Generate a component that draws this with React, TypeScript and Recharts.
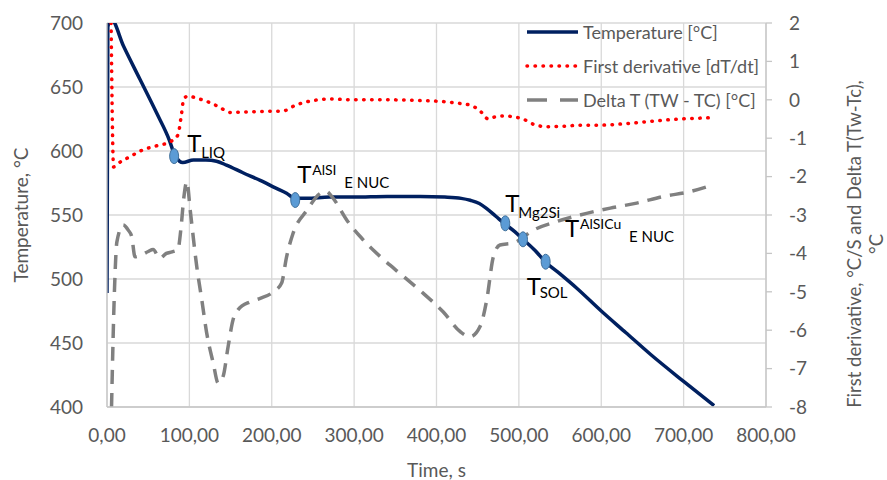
import { ComposedChart, Line, Scatter, XAxis, YAxis, CartesianGrid, Label } from 'recharts'

document.body.style.margin = '0'

// Temperature curve [°C] vs time [s]
const TEMP_TIME = [0, 1, 5, 20, 40, 60, 76, 82, 88, 92, 105, 120, 133, 145, 165, 186, 205, 218, 228, 243, 270, 300, 340, 380, 410, 430, 441, 452, 461, 472, 483, 495, 505, 520, 532, 550, 570, 600, 630, 660, 700, 737]
const TEMP_VALUES = [489, 697, 703, 682, 656, 630, 608, 597, 592, 591, 593, 593, 592, 589, 583, 577, 571, 567, 563, 563, 564, 564, 564.5, 564.5, 564, 563, 561.5, 559, 555, 549, 543, 537, 531, 522, 513.5, 504, 493, 475, 458, 441, 420, 401]

// First derivative [dT/dt]
const DERIV_TIME = [5, 8, 12, 28, 44, 60, 77, 86, 90, 93, 98, 108, 118, 128, 137, 150, 165, 180, 200, 212, 230, 250, 270, 300, 340, 380, 410, 430, 441, 452, 463, 472, 482, 495, 505, 518, 534, 554, 575, 600, 630, 660, 696, 730]
const DERIV_VALUES = [2.0, -1.75, -1.68, -1.48, -1.3, -1.2, -1.09, -0.92, -0.44, 0.0, 0.1, 0.05, -0.02, -0.1, -0.2, -0.33, -0.32, -0.31, -0.3, -0.3, -0.13, -0.02, 0.02, 0.0, 0.0, -0.02, -0.05, -0.1, -0.14, -0.27, -0.5, -0.44, -0.42, -0.45, -0.5, -0.64, -0.7, -0.69, -0.66, -0.66, -0.62, -0.56, -0.5, -0.47]

// Delta T (TW - TC)
const DELTA_TIME = [5.5, 9, 12, 19.6, 26, 30, 34, 42, 50, 56, 64, 72, 79, 86, 90, 93, 97, 101, 109, 115, 121, 129, 135, 141, 147, 153, 159, 174, 186, 202, 212, 218, 226, 243, 258, 266, 273, 291, 309, 332, 360, 384, 408, 429, 441, 453, 461, 469, 477, 493, 518, 546, 574, 611, 643, 675, 708, 735]
const DELTA_VALUES = [-8, -5, -3.7, -3.26, -3.4, -3.56, -4.09, -4.04, -3.95, -3.9, -4.13, -4.0, -3.96, -3.9, -3.3, -2.6, -2.13, -2.87, -4.35, -5.2, -6.07, -6.86, -7.38, -7.2, -6.43, -5.73, -5.47, -5.26, -5.17, -5.0, -4.77, -4.09, -3.47, -2.87, -2.45, -2.38, -2.52, -3.13, -3.6, -4.09, -4.6, -5.04, -5.52, -6.04, -6.17, -5.9, -5.21, -4.09, -3.78, -3.73, -3.39, -3.17, -3.0, -2.82, -2.69, -2.52, -2.39, -2.22]

// characteristic points on the temperature curve
const MARKER_TIME = [81.5, 228.5, 483.5, 505, 532.5]
const MARKER_TEMP = [596, 561.7, 543.5, 531, 513.5]
const MARKER_SUP = ['', 'AlSI', '', 'AlSICu', '']
const MARKER_SUB = ['LIQ', 'E NUC', 'Mg2Si', 'E NUC', 'SOL']

const X_TICKS = [0, 100, 200, 300, 400, 500, 600, 700, 800]
const LEFT_TICKS = [400, 450, 500, 550, 600, 650, 700]
const RIGHT_TICKS = [-8, -7, -6, -5, -4, -3, -2, -1, 0, 1, 2]

// label placement relative to marker centre: [T dx, T dy, sup dx, sup dy, sub dx, sub dy]
const LABEL_LAYOUT = [
  [13, -4, 0, 0, 14, 6],
  [2, -17, 15, -8, 47, 5],
  [0, -11, 0, 0, 13, 6],
  [42, -2, 15, -8, 64, 5],
  [-19, 33, 0, 0, 13, 3],
]

const tempData = TEMP_TIME.map((t, i) => ({ t, temp: TEMP_VALUES[i] }))
const derivData = DERIV_TIME.map((t, i) => ({ t, d: DERIV_VALUES[i] }))
const deltaData = DELTA_TIME.map((t, i) => ({ t, dt: DELTA_VALUES[i] }))
const markerData = MARKER_TIME.map((t, i) => ({ t, temp: MARKER_TEMP[i], idx: i }))

const FONT = "Lato, 'Noto Sans', sans-serif"
const GREY_TEXT = '#595959'
const NAVY = '#002060'
const RED = '#FF0000'
const GREY = '#808080'
const GRID = '#D9D9D9'
const AXIS = '#C6C6C6'

function MarkerShape(props: any) {
  const { cx, cy, payload } = props
  if (cx == null || cy == null) return <g />
  const i = payload.idx
  const [tx, ty, spx, spy, sbx, sby] = LABEL_LAYOUT[i]
  return (
    <g>
      <ellipse cx={cx} cy={cy} rx={4.5} ry={7.5} fill="#5B9BD5" stroke="#41719C" strokeWidth={1} />
      <g fontFamily={FONT} fill="#000">
        <text x={cx + tx} y={cy + ty} fontSize={24}>T</text>
        {MARKER_SUP[i] && (
          <text x={cx + tx + spx} y={cy + ty + spy} fontSize={14}>{MARKER_SUP[i]}</text>
        )}
        <text x={cx + tx + sbx} y={cy + ty + sby} fontSize={15}>{MARKER_SUB[i]}</text>
      </g>
    </g>
  )
}

const LEGEND = [
  { name: 'Temperature [°C]', color: NAVY, dash: undefined as string | undefined, cap: 'butt' },
  { name: 'First derivative [dT/dt]', color: RED, dash: '0.5 7.5', cap: 'round' },
  { name: 'Delta T (TW - TC) [°C]', color: GREY, dash: '20 13', cap: 'butt' },
]
const LEGEND_Y = [32, 66, 100]

export default function App() {
  return (
    <div style={{ position: 'relative', width: 887, height: 480, fontFamily: FONT }}>
      <ComposedChart width={887} height={480} margin={{ top: 23, right: 81, bottom: 43, left: 67 }}>
        <CartesianGrid stroke={GRID} strokeWidth={1.3} yAxisId="left" horizontalValues={LEFT_TICKS} verticalValues={X_TICKS} />
        <XAxis
          type="number"
          dataKey="t"
          domain={[0, 800]}
          ticks={X_TICKS}
          allowDataOverflow
          height={30}
          tickFormatter={(v: number) => `${v},00`}
          tickLine={false}
          tickSize={0}
          tickMargin={22}
          axisLine={{ stroke: AXIS, strokeWidth: 1.3 }}
          tick={{ fill: GREY_TEXT, fontSize: 19, fontFamily: FONT }}
        >
          <Label
            content={({ viewBox }: any) => (
              <text x={viewBox.x + viewBox.width / 2} y={viewBox.y + viewBox.height + 40} textAnchor="middle"
                fill={GREY_TEXT} fontSize={19} fontFamily={FONT}>Time, s</text>
            )}
          />
        </XAxis>
        <YAxis
          yAxisId="left"
          type="number"
          domain={[400, 700]}
          ticks={LEFT_TICKS}
          allowDataOverflow
          width={40}
          tickLine={false}
          tickSize={0}
          tickMargin={24}
          axisLine={{ stroke: AXIS, strokeWidth: 1.3 }}
          tick={{ fill: GREY_TEXT, fontSize: 19, fontFamily: FONT }}
        >
          <Label
            content={({ viewBox }: any) => {
              const cx = 20
              const cy = viewBox.y + viewBox.height / 2
              return (
                <text x={cx} y={cy} transform={`rotate(-90 ${cx} ${cy})`} textAnchor="middle" dominantBaseline="central"
                  fill={GREY_TEXT} fontSize={19} fontFamily={FONT}>Temperature, °C</text>
              )
            }}
          />
        </YAxis>
        <YAxis
          yAxisId="right"
          orientation="right"
          type="number"
          domain={[-8, 2]}
          ticks={RIGHT_TICKS}
          allowDataOverflow
          width={40}
          tickSize={6}
          tickMargin={17}
          tickLine={{ stroke: AXIS, strokeWidth: 1.3 }}
          axisLine={{ stroke: AXIS, strokeWidth: 1.3 }}
          tick={{ fill: GREY_TEXT, fontSize: 19, fontFamily: FONT, textAnchor: 'start' }}
        >
          <Label
            content={({ viewBox }: any) => {
              const cy = viewBox.y + viewBox.height / 2 + 29
              const x1 = viewBox.x + 88
              const x2 = viewBox.x + 110
              return (
                <g fill={GREY_TEXT} fontSize={18.5} fontFamily={FONT}>
                  <text x={x1} y={cy} transform={`rotate(-90 ${x1} ${cy})`} textAnchor="middle" dominantBaseline="central">
                    First derivative, °C/S and Delta T(Tw-Tc),
                  </text>
                  <text x={x2} y={cy} transform={`rotate(-90 ${x2} ${cy})`} textAnchor="middle" dominantBaseline="central">
                    °C
                  </text>
                </g>
              )
            }}
          />
        </YAxis>
        <Line yAxisId="left" data={tempData} dataKey="temp" type="monotone" stroke={NAVY} strokeWidth={3.5}
          dot={false} activeDot={false} isAnimationActive={false} />
        <Line yAxisId="right" data={derivData} dataKey="d" type="monotone" stroke={RED} strokeWidth={3.5}
          strokeDasharray="0.5 7.5" strokeLinecap="round" dot={false} activeDot={false} isAnimationActive={false} />
        <Line yAxisId="right" data={deltaData} dataKey="dt" type="monotone" stroke={GREY} strokeWidth={3.5}
          strokeDasharray="14 9" dot={false} activeDot={false} isAnimationActive={false} />
        <Scatter yAxisId="left" data={markerData} dataKey="temp" shape={MarkerShape} isAnimationActive={false} />
      </ComposedChart>
      <svg width={887} height={480} style={{ position: 'absolute', left: 0, top: 0, pointerEvents: 'none' }}>
        {LEGEND.map((item, i) => (
          <g key={item.name}>
            <line x1={527} x2={578} y1={LEGEND_Y[i]} y2={LEGEND_Y[i]} stroke={item.color} strokeWidth={3.5}
              strokeDasharray={item.dash} strokeLinecap={item.cap as any} />
            <text x={583} y={LEGEND_Y[i]} dominantBaseline="central" fill={GREY_TEXT} fontSize={18} fontFamily={FONT}>
              {item.name}
            </text>
          </g>
        ))}
      </svg>
    </div>
  )
}
